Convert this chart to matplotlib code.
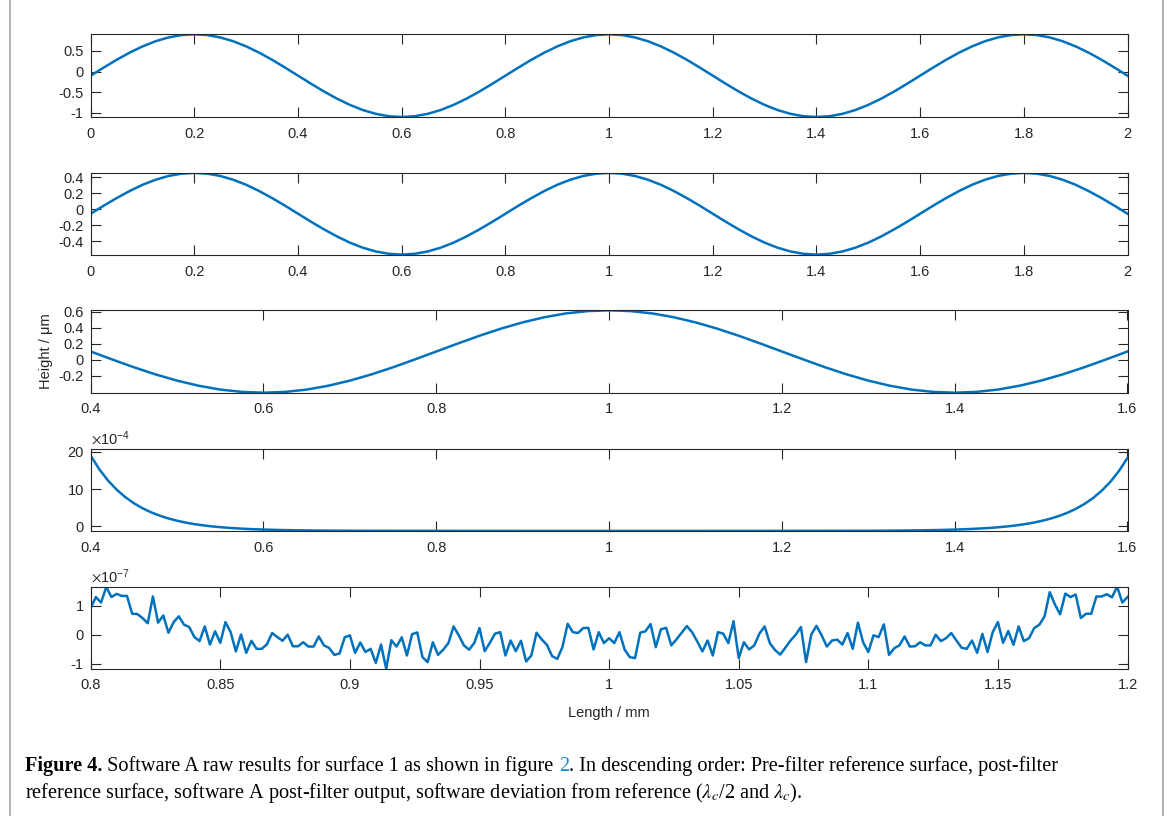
import numpy as np
import matplotlib
matplotlib.use("Agg")
import matplotlib.pyplot as plt
from matplotlib.lines import Line2D
from matplotlib.ticker import FuncFormatter, ScalarFormatter

plt.rcParams["font.family"] = ["Liberation Sans", "DejaVu Sans"]
plt.rcParams["axes.unicode_minus"] = False
plt.rcParams["mathtext.fontset"] = "stix"

# ---- data ----
# panel 1: pre-filter reference surface, 0..2 mm
x_pre = np.linspace(0, 2, 81)
y_pre = [-0.1, 0.095, 0.283, 0.456, 0.607, 0.732, 0.824, 0.881, 0.9, 0.881, 0.824, 0.732, 0.607, 0.456, 0.283, 0.095,
         -0.1, -0.295, -0.483, -0.656, -0.807, -0.932, -1.024, -1.081, -1.1, -1.081, -1.024, -0.932, -0.807, -0.656, -0.483, -0.295,
         -0.1, 0.095, 0.283, 0.456, 0.607, 0.732, 0.824, 0.881, 0.9, 0.881, 0.824, 0.732, 0.607, 0.456, 0.283, 0.095,
         -0.1, -0.295, -0.483, -0.656, -0.807, -0.932, -1.024, -1.081, -1.1, -1.081, -1.024, -0.932, -0.807, -0.656, -0.483, -0.295,
         -0.1, 0.095, 0.283, 0.456, 0.607, 0.732, 0.824, 0.881, 0.9, 0.881, 0.824, 0.732, 0.607, 0.456, 0.283, 0.095, -0.1]

# panel 2: post-filter reference surface, 0..2 mm
x_post = np.linspace(0, 2, 81)
y_post = [-0.055, 0.045, 0.140, 0.228, 0.306, 0.369, 0.416, 0.445, 0.455, 0.445, 0.416, 0.369, 0.306, 0.228, 0.140, 0.045,
          -0.055, -0.155, -0.250, -0.338, -0.416, -0.479, -0.526, -0.555, -0.565, -0.555, -0.526, -0.479, -0.416, -0.338, -0.250, -0.155,
          -0.055, 0.045, 0.140, 0.228, 0.306, 0.369, 0.416, 0.445, 0.455, 0.445, 0.416, 0.369, 0.306, 0.228, 0.140, 0.045,
          -0.055, -0.155, -0.250, -0.338, -0.416, -0.479, -0.526, -0.555, -0.565, -0.555, -0.526, -0.479, -0.416, -0.338, -0.250, -0.155,
          -0.055, 0.045, 0.140, 0.228, 0.306, 0.369, 0.416, 0.445, 0.455, 0.445, 0.416, 0.369, 0.306, 0.228, 0.140, 0.045, -0.055]

# panel 3: software A post-filter output, 0.4..1.6 mm
x_soft = np.linspace(0.4, 1.6, 49)
y_soft = [0.105, 0.005, -0.092, -0.181, -0.259, -0.323, -0.371, -0.400, -0.410, -0.400, -0.371, -0.323, -0.259, -0.181, -0.092, 0.005,
          0.105, 0.205, 0.302, 0.391, 0.469, 0.533, 0.581, 0.610, 0.620, 0.610, 0.581, 0.533, 0.469, 0.391, 0.302, 0.205,
          0.105, 0.005, -0.092, -0.181, -0.259, -0.323, -0.371, -0.400, -0.410, -0.400, -0.371, -0.323, -0.259, -0.181, -0.092, 0.005, 0.105]

# panel 4: deviation from reference (lambda_c / 2), units of 1e-4
x_dev1 = [0.40, 0.41, 0.42, 0.43, 0.44, 0.45, 0.46, 0.47, 0.48, 0.49, 0.50, 0.51, 0.52, 0.53, 0.54, 0.55, 0.56, 0.57, 0.58, 0.59, 0.60,
          0.62, 0.64, 0.66, 0.68, 0.70, 0.80, 0.90, 1.00, 1.10, 1.20, 1.30, 1.32, 1.34, 1.36, 1.38,
          1.40, 1.41, 1.42, 1.43, 1.44, 1.45, 1.46, 1.47, 1.48, 1.49, 1.50, 1.51, 1.52, 1.53, 1.54, 1.55, 1.56, 1.57, 1.58, 1.59, 1.60]
y_dev1 = [19.0, 15.32, 12.31, 9.84, 7.82, 6.17, 4.81, 3.71, 2.80, 2.06, 1.45, 0.95, 0.54, 0.21, -0.07, -0.29, -0.47, -0.62, -0.75, -0.85, -0.93,
          -1.05, -1.13, -1.19, -1.22, -1.25, -1.28, -1.30, -1.30, -1.30, -1.28, -1.25, -1.23, -1.19, -1.14, -1.06,
          -0.94, -0.86, -0.76, -0.64, -0.50, -0.32, -0.10, 0.16, 0.49, 0.88, 1.37, 1.96, 2.68, 3.56, 4.63, 5.95, 7.55, 9.51, 11.90, 14.83, 18.4]
scale_dev1 = 1e-4

# panel 5: deviation from reference (lambda_c), units of 1e-7
x_dev2 = np.linspace(0.8, 1.2, 201)
y_dev2 = [0.93, 1.31, 1.12, 1.66, 1.31, 1.42, 1.35, 1.35, 0.73, 0.72,
          0.58, 0.40, 1.33, 0.42, 0.67, 0.07, 0.44, 0.64, 0.35, 0.27,
          -0.08, -0.22, 0.29, -0.34, 0.12, -0.28, 0.44, 0.09, -0.58, 0.01,
          -0.63, -0.21, -0.49, -0.49, -0.33, 0.06, -0.08, -0.21, 0.00, -0.40,
          -0.40, -0.26, -0.41, -0.41, -0.06, -0.37, -0.46, -0.70, -0.65, -0.09,
          -0.02, -0.63, -0.27, -0.60, -0.49, -0.98, -0.34, -1.18, -0.19, -0.41,
          -0.09, -0.72, 0.02, 0.08, -0.78, -0.95, -0.26, -0.70, -0.52, -0.29,
          0.29, -0.02, -0.37, -0.52, -0.28, 0.23, -0.57, -0.28, 0.04, 0.09,
          -0.72, -0.20, -0.57, -0.21, -0.93, -0.72, 0.07, -0.16, -0.35, -0.74,
          -0.84, -0.43, 0.38, 0.09, 0.06, 0.23, 0.24, -0.51, 0.09, -0.29,
          -0.12, -0.29, 0.09, -0.52, -0.78, -0.81, 0.07, 0.12, 0.37, -0.43,
          0.19, 0.24, -0.37, -0.16, 0.07, 0.30, 0.09, -0.23, -0.58, -0.20,
          -0.72, 0.09, 0.04, -0.29, 0.47, -0.81, -0.26, -0.51, -0.37, 0.04,
          0.29, -0.29, -0.53, -0.69, -0.45, -0.20, 0.00, 0.27, -0.95, 0.01,
          0.31, -0.02, -0.41, -0.20, -0.17, -0.34, 0.06, -0.49, 0.42, -0.26,
          -0.60, -0.02, -0.08, 0.36, -0.70, -0.47, -0.37, -0.06, -0.41, -0.40,
          -0.26, -0.37, -0.37, 0.00, -0.22, -0.12, 0.06, -0.20, -0.45, -0.49,
          -0.20, -0.63, 0.03, -0.60, 0.09, 0.44, -0.28, 0.13, -0.35, 0.29,
          -0.22, -0.12, 0.23, 0.35, 0.64, 1.48, 1.05, 0.71, 1.43, 1.31,
          1.40, 0.58, 0.73, 0.73, 1.33, 1.33, 1.41, 1.30, 1.67, 1.12, 1.31]
scale_dev2 = 1e-7

# ---- figure ----
W, H = 1171, 816
fig = plt.figure(figsize=(W / 100, H / 100), dpi=100)

line_color = "#0072BD"
ink = "#262626"
fmt_g = FuncFormatter(lambda v, p: "%g" % round(v, 6))


class FixedSci(ScalarFormatter):
    # keeps the x10^n offset label but prints plain hyphen tick labels
    def __call__(self, x, pos=None):
        return "%g" % round(x / 10 ** self.orderOfMagnitude, 6)


def make_axes(top, bottom, left=90.7, right=1127.5):
    return fig.add_axes([left / W, 1 - bottom / H, (right - left) / W, (bottom - top) / H])


def style(ax):
    ax.tick_params(direction="in", length=7, width=0.8, top=True, right=True,
                   labelsize=10.5, colors=ink)
    ax.tick_params(axis="x", pad=7)
    ax.tick_params(axis="y", pad=5)
    for s in ax.spines.values():
        s.set_linewidth(0.8)
        s.set_color(ink)


ax1 = make_axes(34.3, 117)
ax1.plot(x_pre, y_pre, color=line_color, lw=1.8)
ax1.set_xlim(0, 2)
ax1.set_ylim(-1.1, 0.9)
ax1.set_xticks(np.arange(0, 2.01, 0.2))
ax1.set_yticks([-1, -0.5, 0, 0.5])

ax2 = make_axes(172.7, 255)
ax2.plot(x_post, y_post, color=line_color, lw=1.8)
ax2.set_xlim(0, 2)
ax2.set_ylim(-0.57, 0.457)
ax2.set_xticks(np.arange(0, 2.01, 0.2))
ax2.set_yticks([-0.4, -0.2, 0, 0.2, 0.4])

ax3 = make_axes(310.3, 392.7)
ax3.plot(x_soft, y_soft, color=line_color, lw=1.8)
ax3.set_xlim(0.4, 1.6)
ax3.set_ylim(-0.41, 0.62)
ax3.set_xticks(np.arange(0.4, 1.61, 0.2))
ax3.set_yticks([-0.2, 0, 0.2, 0.4, 0.6])
ax3.set_ylabel("Height / μm", fontsize=10.5, color=ink, labelpad=4)

ax4 = make_axes(449, 531.3)
ax4.plot(x_dev1, np.array(y_dev1) * scale_dev1, color=line_color, lw=1.8)
ax4.set_xlim(0.4, 1.6)
ax4.set_ylim(-1.4e-4, 20.8e-4)
ax4.set_xticks(np.arange(0.4, 1.61, 0.2))
ax4.set_yticks([0, 10e-4, 20e-4])

ax5 = make_axes(586.7, 668.7)
ax5.plot(x_dev2, np.array(y_dev2) * scale_dev2, color=line_color, lw=1.8)
ax5.set_xlim(0.8, 1.2)
ax5.set_ylim(-1.18e-7, 1.67e-7)
ax5.set_xticks(np.arange(0.8, 1.201, 0.05))
ax5.set_yticks([-1e-7, 0, 1e-7])
ax5.set_xlabel("Length / mm", fontsize=10.5, color=ink, labelpad=10)

for ax in (ax1, ax2, ax3, ax4, ax5):
    style(ax)
    ax.xaxis.set_major_formatter(fmt_g)
for ax in (ax1, ax2, ax3):
    ax.yaxis.set_major_formatter(fmt_g)
for ax, p in ((ax4, -4), (ax5, -7)):
    sf = FixedSci(useMathText=True)
    sf.set_powerlimits((p, p))
    ax.yaxis.set_major_formatter(sf)
    ax.yaxis.get_offset_text().set_fontsize(10.5)
    ax.yaxis.get_offset_text().set_color(ink)

# page frame lines
for xp in (10, 1163):
    fig.add_artist(Line2D([xp / W, xp / W], [0, 1], transform=fig.transFigure, color="#a6a6a6", lw=1.2))

# caption
cap_font = "Liberation Serif"
cap_size = 14.6
t1 = fig.text(25 / W, 1 - 776 / H, "Figure 4.", fontfamily=cap_font, fontweight="bold",
              fontsize=cap_size, va="bottom")
t2 = fig.add_artist(plt.Annotation(" Software A raw results for surface 1 as shown in figure ", xy=(1, 0),
                                   xycoords=t1, va="bottom", fontfamily=cap_font, fontsize=cap_size))
t3 = fig.add_artist(plt.Annotation("2", xy=(1, 0), xycoords=t2, va="bottom", fontfamily=cap_font,
                                   fontsize=cap_size, color="#1a8fc7"))
fig.add_artist(plt.Annotation(". In descending order: Pre-filter reference surface, post-filter", xy=(1, 0),
                              xycoords=t3, va="bottom", fontfamily=cap_font, fontsize=cap_size))
fig.text(25 / W, 1 - 805 / H,
         r"reference surface, software A post-filter output, software deviation from reference ($\lambda_c$/2 and $\lambda_c$).",
         fontfamily=cap_font, fontsize=cap_size, va="bottom")

fig.savefig("out.png", dpi=100)
